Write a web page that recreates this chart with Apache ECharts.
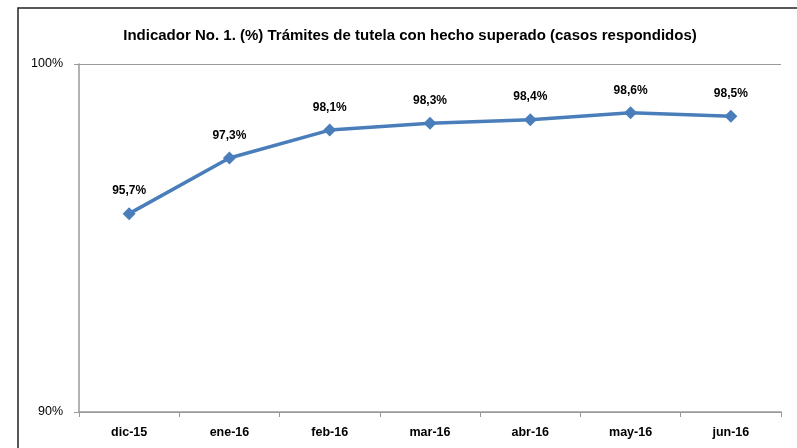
<!DOCTYPE html>
<html><head><meta charset="utf-8">
<script src="https://cdn.jsdelivr.net/npm/echarts@6/dist/echarts.min.js"></script>
<style>html,body{margin:0;padding:0;background:#fff}#c{width:797px;height:448px}</style>
</head><body><div id="c"></div>
<script>
const categories = ['dic-15','ene-16','feb-16','mar-16','abr-16','may-16','jun-16'];
const values = [95.7, 97.3, 98.1, 98.3, 98.4, 98.6, 98.5];
const yTicks = [90, 100];
const chart = echarts.init(document.getElementById('c'), null, {renderer:'canvas'});
chart.setOption({
  animation:false,
  backgroundColor:'#fff',
  title:{text:'Indicador No. 1. (%) Trámites de tutela con hecho superado (casos respondidos)',
    left:405, top:23, textAlign:'center',
    textStyle:{fontFamily:'Liberation Sans',fontWeight:'bold',fontSize:15,color:'#000'}},
  graphic:[{type:'rect',shape:{x:18,y:8,width:800,height:460},style:{fill:'none',stroke:'#222',lineWidth:1.5},z:-1}],
  grid:{left:79,top:64,right:16,bottom:36,containLabel:false},
  xAxis:{type:'category',data:categories,boundaryGap:true,
    axisLine:{lineStyle:{color:'#9a9a9a',width:1.5}},
    axisTick:{show:true,length:5,lineStyle:{color:'#9a9a9a'}},
    axisLabel:{color:'#000',fontWeight:'bold',fontSize:12.5,fontFamily:'Liberation Sans',margin:14}},
  yAxis:{type:'value',min:yTicks[0],max:yTicks[1],interval:10,
    axisLine:{show:true,lineStyle:{color:'#9a9a9a',width:1.5}},
    axisTick:{show:true,length:5,lineStyle:{color:'#9a9a9a'}},
    splitLine:{show:true,lineStyle:{color:'#9a9a9a',width:1}},
    axisLabel:{color:'#000',fontSize:12.5,fontFamily:'Liberation Sans',margin:16,formatter:v=>v+'%'}},
  series:[{type:'line',data:values,symbol:'diamond',symbolSize:13,
    lineStyle:{color:'#4a7ebb',width:3.5},itemStyle:{color:'#4a7ebb'},
    label:{show:true,position:'top',distance:10,color:'#000',fontWeight:'bold',fontSize:12,fontFamily:'Liberation Sans',
      formatter:p=>p.value.toFixed(1).replace('.',',')+'%'}}]
});
</script></body></html>
